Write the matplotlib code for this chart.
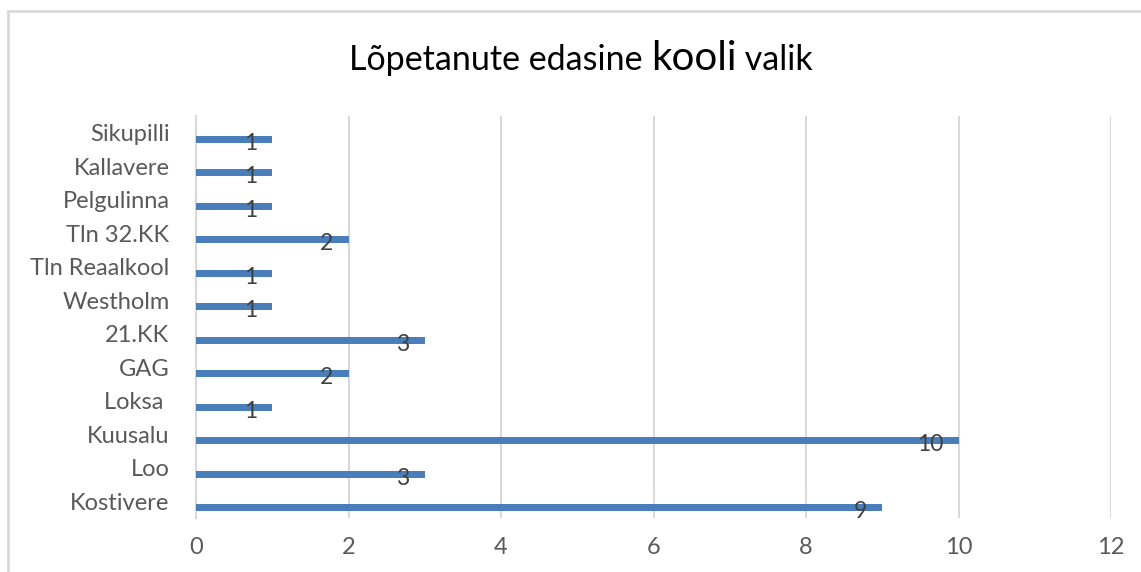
import matplotlib
matplotlib.use("Agg")
import matplotlib.pyplot as plt
from matplotlib.offsetbox import TextArea, HPacker, AnchoredOffsetbox
from matplotlib.patches import Rectangle

categories = ["Kostivere", "Loo", "Kuusalu", "Loksa ", "GAG", "21.KK", "Westholm",
              "Tln Reaalkool", "Tln 32.KK", "Pelgulinna", "Kallavere", "Sikupilli"]
values = [9, 3, 10, 1, 2, 3, 1, 1, 2, 1, 1, 1]
x_ticks = [0, 2, 4, 6, 8, 10, 12]

FONT = "Lato"
plt.rcParams['font.family'] = [FONT, 'DejaVu Sans']

W, H = 1141, 572
fig = plt.figure(figsize=(W / 100, H / 100), dpi=100)
fig.patch.set_facecolor("white")

# chart border
fig.patches.append(Rectangle((8 / W, -0.1), 1.2, 1 - 11 / H + 0.1, transform=fig.transFigure,
                             fill=False, edgecolor="#d9d9d9", linewidth=2, zorder=0))

ax = fig.add_axes([196 / W, 1 - 518 / H, (1111 - 196) / W, (518 - 116) / H])
ypos = list(range(len(categories)))
bar_y = [y - 0.19 for y in ypos]
ax.barh(bar_y, values, height=0.21, color="#4a7ebb", zorder=3)

ax.set_xlim(0, 12)
ax.set_ylim(-0.5, len(categories) - 0.5)
ax.set_xticks(x_ticks)
ax.set_xticklabels([str(t) for t in x_ticks])
ax.set_yticks(ypos)
ax.set_yticklabels(categories)
ax.tick_params(axis="both", length=0, labelsize=17, labelcolor="#595959")
ax.tick_params(axis="y", pad=19)
ax.tick_params(axis="x", pad=14)
ax.grid(axis="x", color="#d9d9d9", linewidth=1.5, zorder=0)
for s in ["top", "right", "bottom"]:
    ax.spines[s].set_visible(False)
ax.spines["left"].set_color("#d9d9d9")
ax.spines["left"].set_linewidth(1.5)

for yb, v in zip(bar_y, values):
    ax.annotate(str(v), xy=(v, yb), xytext=(-11, -3), textcoords="offset points",
                ha="right", va="center", fontsize=16.5, color="#404040", zorder=4)

# Title with larger "kooli"
t1 = TextArea("Lõpetanute edasine ", textprops=dict(fontsize=24.5, color="#000000", family=FONT))
t2 = TextArea("kooli", textprops=dict(fontsize=29, color="#000000", family=FONT))
t3 = TextArea(" valik", textprops=dict(fontsize=24.5, color="#000000", family=FONT))
pack = HPacker(children=[t1, t2, t3], align="baseline", pad=0, sep=0)
anch = AnchoredOffsetbox(loc="center", child=pack, frameon=False,
                         bbox_to_anchor=(581 / W, 1 - 58 / H), bbox_transform=fig.transFigure,
                         borderpad=0, pad=0)
fig.add_artist(anch)

fig.savefig("out.png", dpi=100, facecolor="white")
